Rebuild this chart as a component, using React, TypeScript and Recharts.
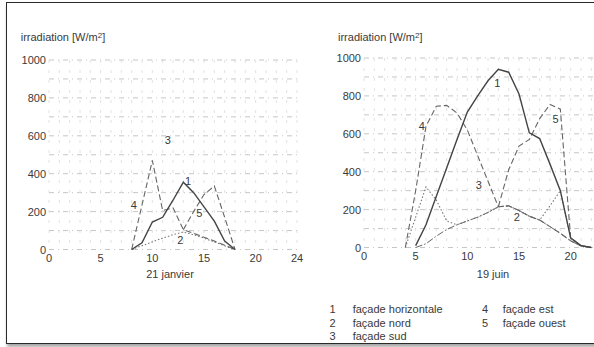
import React from "react";
import {
  LineChart,
  Line,
  XAxis,
  YAxis,
  CartesianGrid,
  ReferenceDot,
} from "recharts";

// 21 janvier
const janHeures = [8, 9, 10, 11, 12, 13, 14, 15, 16, 17, 18];
const janHorizontale = [0, 35, 145, 170, 260, 355, 300, 225, 150, 45, 0];
const janNord = [0, 20, 40, 60, 78, 92, 78, 60, 40, 20, 0];
const janEst = [0, 235, 470, 205, 220, 105, 85, 65, 45, 22, 0];
const janOuest = [null, null, null, null, null, 105, 200, 290, 335, 170, 0];

// 19 juin
const juinHeures = [4, 5, 6, 7, 8, 9, 10, 11, 12, 13, 14, 15, 16, 17, 18, 19, 20, 21, 22];
const juinHorizontale = [null, 10, 120, 270, 420, 570, 715, 800, 880, 940, 925, 810, 605, 575, 440, 300, 50, 10, 0];
const juinNord = [0, 160, 320, 250, 140, 120, 140, 160, 185, 215, 220, 195, 165, 145, 220, 300, 50, 10, 0];
const juinSud = [null, 0, 20, 60, 95, 120, 140, 160, 185, 215, 220, 195, 165, 145, 110, 75, 35, 8, 0];
const juinEst = [0, 300, 640, 745, 750, 710, 620, 485, 350, 215, 220, 195, 165, 145, 110, 75, 35, 8, 0];
const juinOuest = [null, null, null, null, null, null, null, null, null, 215, 410, 535, 570, 680, 755, 730, 50, 10, 0];

// axis ticks
const xTicks = [0, 1, 2, 3, 4, 5, 6, 7, 8, 9, 10, 11, 12, 13, 14, 15, 16, 17, 18, 19, 20, 21, 22, 23, 24];
const janXLabels = [0, 5, 10, 15, 20, 24];
const juinXLabels = [0, 5, 10, 15, 20];
const yTicks = [0, 100, 200, 300, 400, 500, 600, 700, 800, 900, 1000];
const yLabels = [0, 200, 400, 600, 800, 1000];

// curve numbers placed in data coordinates
const janNumeros = [
  { n: "1", h: 13.45, v: 363 },
  { n: "2", h: 12.7, v: 48 },
  { n: "3", h: 11.5, v: 578 },
  { n: "4", h: 8.2, v: 232 },
  { n: "5", h: 14.55, v: 190 },
];
const juinNumeros = [
  { n: "1", h: 12.9, v: 868 },
  { n: "2", h: 14.8, v: 162 },
  { n: "3", h: 11.1, v: 327 },
  { n: "4", h: 5.6, v: 641 },
  { n: "5", h: 18.55, v: 676 },
];

const legende = [
  ["1", "façade horizontale", "4", "façade est"],
  ["2", "façade nord", "5", "façade ouest"],
  ["3", "façade sud", "", ""],
];

const FONT = '"Liberation Sans", Arial, Helvetica, sans-serif';
const INK = "#3a3a3a";

const janData = janHeures.map((h, i) => ({
  h,
  s1: janHorizontale[i],
  s2: janNord[i],
  s4: janEst[i],
  s5: janOuest[i],
}));

const juinData = juinHeures.map((h, i) => ({
  h,
  s1: juinHorizontale[i],
  s2: juinNord[i],
  s3: juinSud[i],
  s4: juinEst[i],
  s5: juinOuest[i],
}));

const XTick = (props: any) => {
  const { x, y, payload, labels } = props;
  if (!labels.includes(payload.value)) return <g />;
  return (
    <text x={x} y={y + 12.5} textAnchor="middle" fontSize={11} fontFamily={FONT} fill={INK}>
      {payload.value}
    </text>
  );
};

const YTick = (props: any) => {
  const { x, y, payload } = props;
  if (!yLabels.includes(payload.value)) return <g />;
  return (
    <text x={x} y={y + 4} textAnchor="end" fontSize={11} fontFamily={FONT} fill={INK}>
      {payload.value}
    </text>
  );
};

const styles: Record<string, { stroke: string; width: number; dash?: string }> = {
  s1: { stroke: "#444", width: 1.4 },
  s2: { stroke: "#777", width: 1.1, dash: "1.5 2" },
  s3: { stroke: "#666", width: 1, dash: "7 2 1.5 2" },
  s4: { stroke: "#666", width: 1.1, dash: "6 3" },
  s5: { stroke: "#666", width: 1.1, dash: "6 3" },
};

function Panel({
  data,
  series,
  numeros,
  labels,
  top,
}: {
  data: any[];
  series: string[];
  numeros: { n: string; h: number; v: number }[];
  labels: number[];
  top: number;
}) {
  return (
    <LineChart
      width={310}
      height={280}
      data={data}
      margin={{ top, right: 13, bottom: 0, left: 9 }}
    >
      <CartesianGrid
        vertical={false}
        stroke="#b8b8b8"
        strokeDasharray="5 4 1 4"
        strokeWidth={0.8}
      />
      <CartesianGrid
        horizontal={false}
        stroke="#dadada"
        strokeDasharray="3 7"
        strokeWidth={0.8}
      />
      <XAxis
        dataKey="h"
        type="number"
        domain={[0, 24]}
        ticks={xTicks}
        interval={0}
        axisLine={false}
        tickLine={false}
        tickSize={0}
        tickMargin={0}
        height={280 - top - 189.5}
        tick={<XTick labels={labels} />}
      />
      <YAxis
        type="number"
        domain={[0, 1000]}
        ticks={yTicks}
        interval={0}
        width={40}
        axisLine={false}
        tickLine={false}
        tickSize={0}
        tickMargin={3}
        tick={<YTick />}
      />
      {series.map((k) => (
        <Line
          key={k}
          type="linear"
          dataKey={k}
          stroke={styles[k].stroke}
          strokeWidth={styles[k].width}
          strokeDasharray={styles[k].dash}
          dot={false}
          activeDot={false}
          isAnimationActive={false}
        />
      ))}
      {numeros.map((m) => (
        <ReferenceDot
          key={m.n}
          x={m.h}
          y={m.v}
          r={0}
          stroke="none"
          fill="none"
          label={{
            value: m.n,
            position: "center",
            fill: INK,
            fontSize: 11,
            fontFamily: FONT,
          }}
        />
      ))}
    </LineChart>
  );
}

const Titre = ({ left }: { left: number }) => (
  <div
    style={{
      position: "absolute",
      left,
      top: 31,
      fontSize: 11,
      lineHeight: "13px",
      fontFamily: FONT,
      color: INK,
      whiteSpace: "nowrap",
    }}
  >
    irradiation [W/m
    <span style={{ fontSize: 8, position: "relative", top: -3 }}>2</span>]
  </div>
);

const Date = ({ cx, text }: { cx: number; text: string }) => (
  <div
    style={{
      position: "absolute",
      left: cx - 50,
      width: 100,
      top: 268,
      textAlign: "center",
      fontSize: 11,
      lineHeight: "13px",
      fontFamily: FONT,
      color: INK,
    }}
  >
    {text}
  </div>
);

export default function App() {
  return (
    <div
      style={{
        position: "relative",
        width: 594,
        height: 347,
        overflow: "hidden",
        background: "#fff",
      }}
    >
      <style>{`body{margin:0;overflow:hidden}`}</style>
      <div
        style={{
          position: "absolute",
          left: 6,
          top: 1.5,
          width: 640,
          height: 342,
          boxSizing: "border-box",
          border: "1.5px solid #2a2a2a",
          boxShadow: "1px 3px 3px rgba(0,0,0,0.35)",
        }}
      />
      <div style={{ position: "absolute", left: 0.3, top: 0 }}>
        <Panel
          data={janData}
          series={["s2", "s4", "s5", "s1"]}
          numeros={janNumeros}
          labels={janXLabels}
          top={60}
        />
      </div>
      <div style={{ position: "absolute", left: 315.3, top: 0 }}>
        <Panel
          data={juinData}
          series={["s3", "s2", "s4", "s5", "s1"]}
          numeros={juinNumeros}
          labels={juinXLabels}
          top={58}
        />
      </div>
      <Titre left={20.7} />
      <Titre left={338} />
      <Date cx={170} text="21 janvier" />
      <Date cx={493} text="19 juin" />
      <div
        style={{
          position: "absolute",
          left: 320,
          top: 303,
          fontSize: 11,
          lineHeight: "13.5px",
          fontFamily: FONT,
          color: INK,
        }}
      >
        {legende.map((row, i) => (
          <div key={i} style={{ position: "relative", height: 13.5 }}>
            <span style={{ position: "absolute", left: 8.5, width: 8, textAlign: "center" }}>{row[0]}</span>
            <span style={{ position: "absolute", left: 32.7, whiteSpace: "nowrap" }}>{row[1]}</span>
            <span style={{ position: "absolute", left: 161, width: 8, textAlign: "center" }}>{row[2]}</span>
            <span style={{ position: "absolute", left: 182.7, whiteSpace: "nowrap" }}>{row[3]}</span>
          </div>
        ))}
      </div>
    </div>
  );
}
